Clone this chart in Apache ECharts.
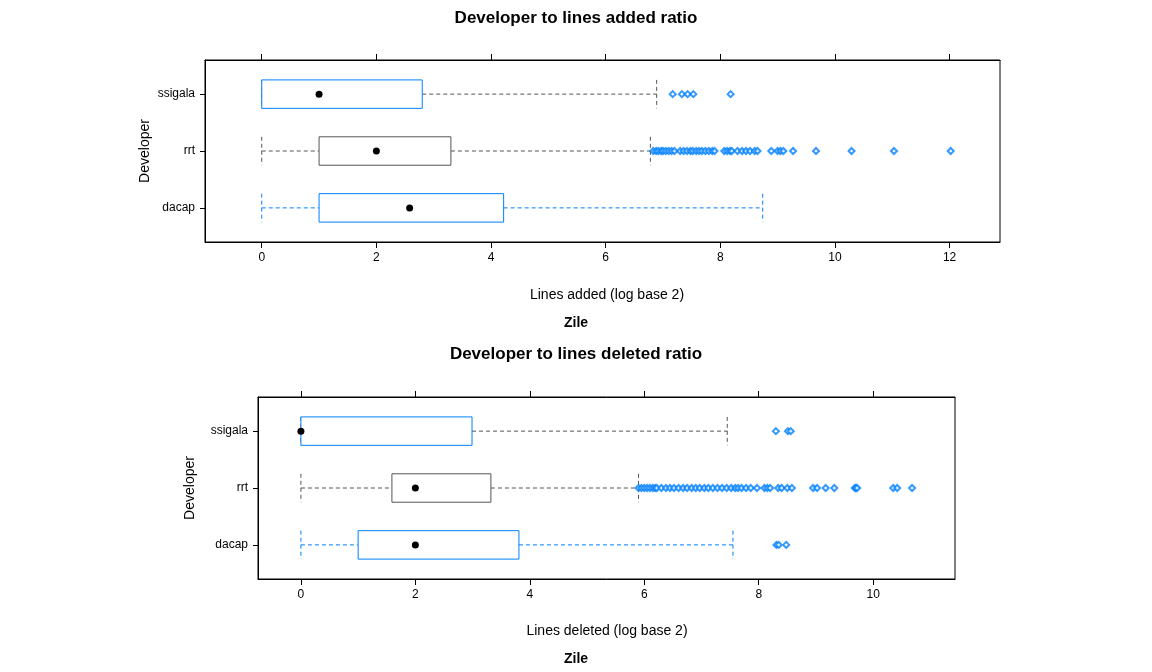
<!DOCTYPE html>
<html><head><meta charset="utf-8">
<script src="https://cdn.jsdelivr.net/npm/echarts@6/dist/echarts.min.js"></script>
<style>body{margin:0;background:#fff}#main{width:1152px;height:672px}</style>
</head><body><div id="main"></div>
<script>
var developers = ['dacap', 'rrt', 'ssigala']
// [low whisker, q1, median, q3, high whisker]
var addedStats = [[0, 1, 2.58, 4.22, 8.74], [0, 1, 2, 3.3, 6.78], [0, 0, 1, 2.8, 6.89]]
var deletedStats = [[0, 1, 2, 3.81, 7.55], [0, 1.59, 2, 3.32, 5.9], [0, 0, 0, 2.99, 7.45]]
var addedOutRrt = [6.83, 6.88, 6.92, 6.97, 7.0, 7.05, 7.1, 7.15, 7.2, 7.3, 7.36, 7.42, 7.48, 7.52, 7.58, 7.63, 7.68, 7.74, 7.8, 7.86, 7.9, 8.07, 8.12, 8.17, 8.2, 8.3, 8.38, 8.45, 8.52, 8.6, 8.65, 8.89, 9.0, 9.05, 9.1, 9.27, 9.67, 10.29, 11.03, 12.02]
var addedOutSsigala = [7.17, 7.33, 7.43, 7.53, 8.18]
var deletedOutDacap = [8.31, 8.35, 8.48]
var deletedOutRrt = [5.9, 5.95, 6.0, 6.05, 6.1, 6.15, 6.19, 6.22, 6.3, 6.38, 6.45, 6.52, 6.6, 6.68, 6.75, 6.83, 6.9, 6.97, 7.05, 7.12, 7.2, 7.28, 7.36, 7.44, 7.52, 7.59, 7.64, 7.7, 7.78, 7.86, 7.97, 8.1, 8.15, 8.2, 8.34, 8.4, 8.5, 8.58, 8.95, 9.02, 9.17, 9.32, 9.68, 9.7, 9.72, 10.35, 10.42, 10.68]
var deletedOutSsigala = [8.3, 8.51, 8.56]
var addedTicks = [0, 2, 4, 6, 8, 10, 12]
var deletedTicks = [0, 2, 4, 6, 8, 10]

var BLUE = '#0080ff', GRAY = '#555'
var boxColor = [BLUE, GRAY, BLUE]
var whiskColor = [BLUE, GRAY, GRAY]

function boxSeries(stats, gi) {
    return {
        type: 'custom', xAxisIndex: gi * 2, yAxisIndex: gi,
        data: stats.map(function (s, i) { return [i].concat(s) }),
        renderItem: function (params, api) {
            var i = api.value(0)
            var h = api.size([0, 0.25])[1]
            var p = [1, 2, 3, 4, 5].map(function (k) { return api.coord([api.value(k), i]) })
            var y = p[0][1]
            var bc = boxColor[i], wc = whiskColor[i]
            var dash = { stroke: wc, lineWidth: 1, lineDash: [4, 3] }
            return {
                type: 'group', children: [
                    { type: 'line', shape: { x1: p[0][0], y1: y, x2: p[1][0], y2: y }, style: dash },
                    { type: 'line', shape: { x1: p[3][0], y1: y, x2: p[4][0], y2: y }, style: dash },
                    { type: 'line', shape: { x1: p[0][0], y1: y - h, x2: p[0][0], y2: y + h }, style: dash },
                    { type: 'line', shape: { x1: p[4][0], y1: y - h, x2: p[4][0], y2: y + h }, style: dash },
                    { type: 'rect', shape: { x: p[1][0], y: y - h, width: p[3][0] - p[1][0], height: 2 * h }, style: { fill: '#fff', stroke: bc, lineWidth: 1 } },
                    { type: 'circle', shape: { cx: p[2][0], cy: y, r: 3.5 }, style: { fill: '#000' } }
                ]
            }
        }
    }
}
function outSeries(vals, cat, gi) {
    var idx = developers.indexOf(cat)
    return {
        type: 'scatter', xAxisIndex: gi * 2, yAxisIndex: gi, symbol: 'emptyDiamond', symbolSize: 6,
        itemStyle: { color: BLUE, borderColor: BLUE, borderWidth: 1 },
        data: vals.map(function (v) { return [v, idx] })
    }
}
function xAxes(gi, min, max, ticks) {
    var base = { gridIndex: gi, type: 'value', min: min, max: max, splitLine: { show: false },
        axisLine: { show: true, onZero: false, lineStyle: { color: '#000' } },
        axisTick: { show: true, length: 6, lineStyle: { color: '#000' }, customValues: ticks } }
    return [
        Object.assign({}, base, { position: 'bottom', axisLabel: { color: '#000', fontSize: 12, fontFamily: 'Liberation Sans', customValues: ticks, margin: 10 } }),
        Object.assign({}, base, { position: 'top', axisLabel: { color: 'rgba(0,0,0,0)', customValues: ticks } })
    ]
}
function yAxis(gi) {
    return { gridIndex: gi, type: 'value', min: -0.6, max: 2.6, splitLine: { show: false },
        axisLine: { show: true, onZero: false, lineStyle: { color: '#000' } },
        axisTick: { length: 5, lineStyle: { color: '#000' }, customValues: [0, 1, 2] },
        axisLabel: { color: '#000', fontSize: 12, fontFamily: 'Liberation Sans', margin: 10, customValues: [0, 1, 2],
            formatter: function (v) { return developers[Math.round(v)] } } }
}
function txt(x, y, s, bold, size, rot) {
    return { type: 'text', x: x, y: y, rotation: rot || 0,
        style: { text: s, fill: '#000', font: (bold ? 'bold ' : '') + size + 'px Liberation Sans', textAlign: 'center', textVerticalAlign: 'middle' } }
}

var chart = echarts.init(document.getElementById('main'))
chart.setOption({
    animation: false,
    grid: [
        { left: 205, right: 152, top: 60, height: 182, show: true, borderColor: '#000', borderWidth: 1 },
        { left: 258, right: 197, top: 397, height: 182, show: true, borderColor: '#000', borderWidth: 1 }
    ],
    xAxis: xAxes(0, -0.99, 12.88, addedTicks).concat(xAxes(1, -0.75, 11.43, deletedTicks)),
    yAxis: [yAxis(0), yAxis(1)],
    graphic: [
        txt(576, 18, 'Developer to lines added ratio', true, 17),
        txt(607, 295, 'Lines added (log base 2)', false, 14),
        txt(576, 323, 'Zile', true, 14),
        txt(145, 151, 'Developer', false, 14, Math.PI / 2),
        txt(576, 354, 'Developer to lines deleted ratio', true, 17),
        txt(607, 631, 'Lines deleted (log base 2)', false, 14),
        txt(576, 659, 'Zile', true, 14),
        txt(190, 488, 'Developer', false, 14, Math.PI / 2)
    ],
    series: [
        boxSeries(addedStats, 0),
        outSeries(addedOutRrt, 'rrt', 0),
        outSeries(addedOutSsigala, 'ssigala', 0),
        boxSeries(deletedStats, 1),
        outSeries(deletedOutDacap, 'dacap', 1),
        outSeries(deletedOutRrt, 'rrt', 1),
        outSeries(deletedOutSsigala, 'ssigala', 1)
    ]
})
</script></body></html>
